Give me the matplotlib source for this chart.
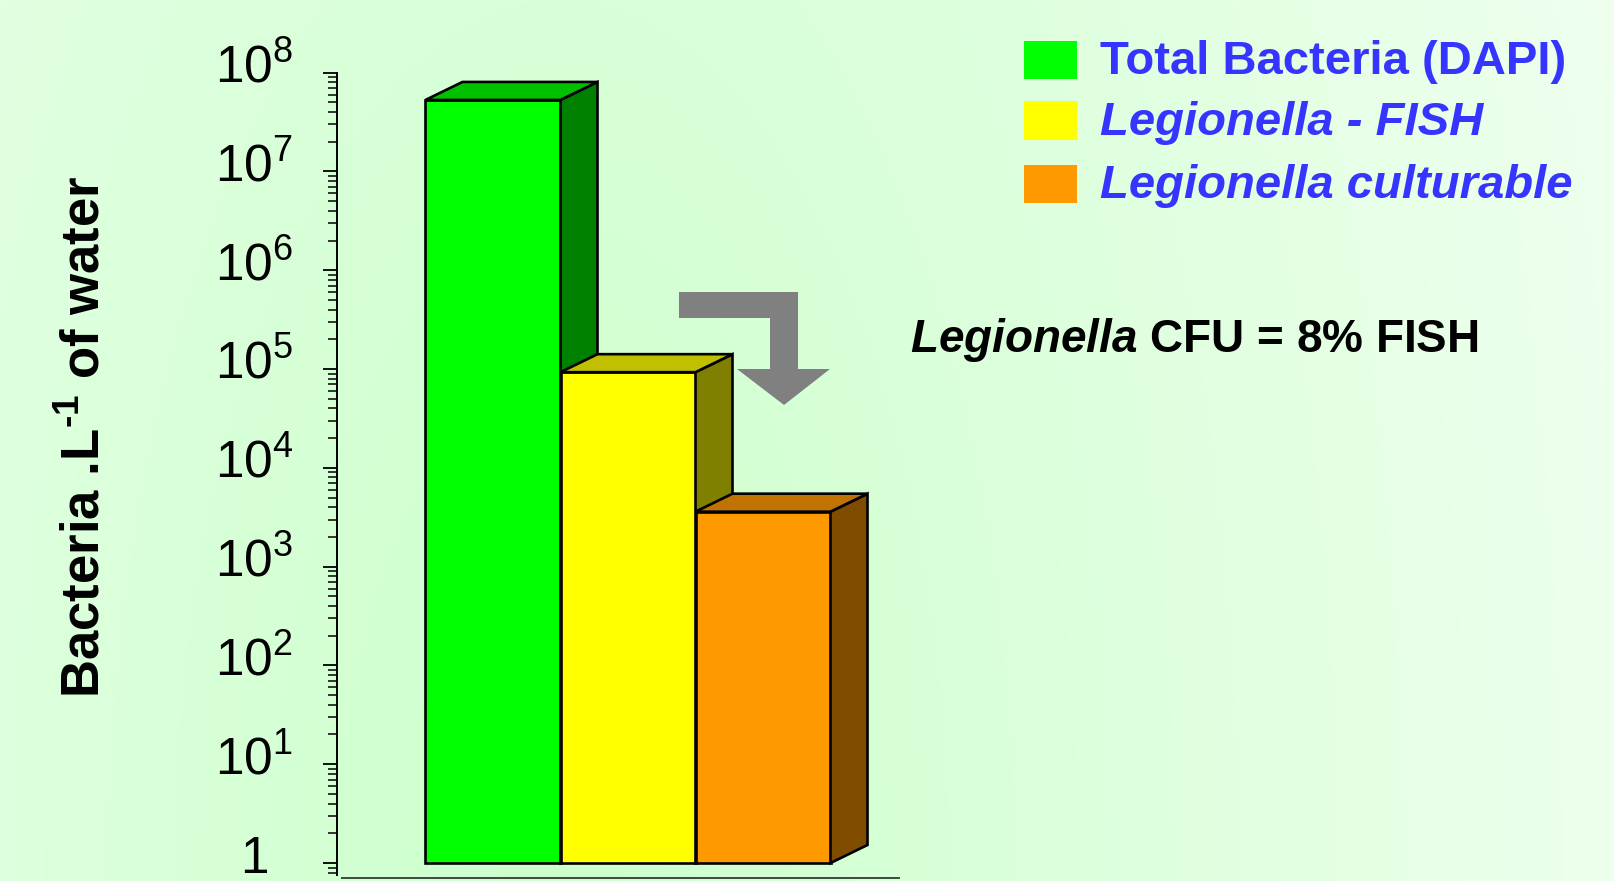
import numpy as np
import matplotlib
matplotlib.use('Agg')
import matplotlib.pyplot as plt
from matplotlib.patches import Polygon, Rectangle
from matplotlib.ticker import FixedLocator, LogLocator, NullFormatter

plt.rcParams['font.family'] = ['Liberation Sans', 'DejaVu Sans']
plt.rcParams['mathtext.fontset'] = 'custom'
plt.rcParams['mathtext.rm'] = 'Liberation Sans:bold'
plt.rcParams['mathtext.sf'] = 'Liberation Sans'
plt.rcParams['mathtext.it'] = 'Liberation Sans:italic:bold'
plt.rcParams['mathtext.bf'] = 'Liberation Sans:bold'

# data
categories = ['Total Bacteria (DAPI)', 'Legionella - FISH', 'Legionella culturable']
legend_styles = ['normal', 'italic', 'italic']
values = [5.3e7, 9.3e4, 3.6e3]
front_colors = ['#00ff00', '#ffff00', '#ff9900']
top_colors = ['#00c000', '#c0c000', '#c07300']
side_colors = ['#008000', '#808000', '#804c00']
ytick_values = [1, 1e1, 1e2, 1e3, 1e4, 1e5, 1e6, 1e7, 1e8]
ytick_labels = ['1'] + [r'$\mathsf{10^{%d}}$' % i for i in range(1, 9)]
note = r'$\mathit{Legionella}$ CFU = 8% FISH'
ylabel = r'Bacteria .L$^{\text{-}\mathbf{1}}$ of water'

W, H = 1615, 881
fig = plt.figure(figsize=(W / 100, H / 100), dpi=100)

# background gradient
bg = fig.add_axes([0, 0, 1, 1])
yy, xx = np.mgrid[0:H:4, 0:W:4]
d = np.sqrt(((xx - 560) / 1100.0) ** 2 + ((yy - 880) / 2500.0) ** 2)
r = np.clip(204 + 34 * d, 0, 240) / 255.0
img = np.dstack([r, np.ones_like(r), r])
bg.imshow(img, aspect='auto', extent=[0, 1, 0, 1], interpolation='bilinear')
bg.set_axis_off()

# main axes
decade = (863 - 72.7) / 8
ax = fig.add_axes([337 / W, (H - 875) / H, (899 - 337) / W, (875 - 72.7) / H])
ax.patch.set_alpha(0)
ax.set_yscale('log')
ax.set_ylim(10 ** (-(875 - 863) / decade), 1e8)
px_per_unit = 135.0
ax.set_xlim(-(493 - 337) / px_per_unit, -(493 - 337) / px_per_unit + (899 - 337) / px_per_unit)

x = np.arange(len(values))
width = 1.0
ddx = 37 / px_per_unit
k = 10 ** (18 / decade)
base = 1.0
bars = ax.bar(x, np.array(values) - base, bottom=base, width=width,
              color=front_colors, edgecolor='black', linewidth=1.9)
for i, (v, b) in enumerate(zip(values, bars)):
    b.set_zorder(3 + 2 * i)
    x0, x1 = x[i] - width / 2, x[i] + width / 2
    top = Polygon([(x0, v), (x1, v), (x1 + ddx, v * k), (x0 + ddx, v * k)],
                  closed=True, facecolor=top_colors[i], edgecolor='black',
                  linewidth=1.9, joinstyle='miter', zorder=4 + 2 * i)
    side = Polygon([(x1, base), (x1 + ddx, base * k), (x1 + ddx, v * k), (x1, v)],
                   closed=True, facecolor=side_colors[i], edgecolor='black',
                   linewidth=1.9, joinstyle='miter', zorder=4 + 2 * i)
    ax.add_patch(side)
    ax.add_patch(top)

# axes styling
for s in ['top', 'right']:
    ax.spines[s].set_visible(False)
ax.spines['left'].set_linewidth(1.4)
ax.spines['bottom'].set_position(('outward', 2.5))
ax.spines['bottom'].set_color('#3c4a3c')
ax.spines['bottom'].set_linewidth(1.4)
ax.spines['bottom'].set_bounds(ax.get_xlim()[0] + 5 / px_per_unit, ax.get_xlim()[1])
ax.set_xticks([])
ax.yaxis.set_major_locator(FixedLocator(ytick_values))
ax.yaxis.set_minor_locator(LogLocator(base=10, subs=np.arange(2, 10), numticks=20))
ax.yaxis.set_major_formatter(NullFormatter())
ax.yaxis.set_minor_formatter(NullFormatter())
ax.tick_params(axis='y', which='major', length=10, width=1.3, direction='out')
ax.tick_params(axis='y', which='minor', length=6.7, width=1.1, direction='out')

for v, lab in zip(ytick_values, ytick_labels):
    ax.annotate(lab, xy=(0, v), xycoords=ax.get_yaxis_transform(),
                xytext=(-83 * 0.72, -10 * 0.72), textcoords='offset points',
                ha='center', va='baseline', fontsize=37, color='black')

fig.text(85 / W, 1 - 437 / H, ylabel, rotation=90, ha='center', va='center',
         fontsize=38, fontweight='bold', color='black')

# legend
leg_y = [60, 120.5, 184]
for lab, c, st, yc in zip(categories, front_colors, legend_styles, leg_y):
    fig.patches.append(Rectangle((1024 / W, (H - yc - 19) / H), 53 / W, 38 / H,
                                 transform=fig.transFigure, facecolor=c,
                                 edgecolor='none'))
    fig.text(1100 / W, 1 - (yc + 2) / H, lab, ha='left', va='center',
             fontsize=34, fontweight='bold', fontstyle=st, color='#3535ff')

# annotation
fig.text(910 / W, 1 - 340 / H, note, ha='left', va='center', fontsize=33,
         fontweight='bold', color='black')

arrow_px = [(679, 292), (798, 292), (798, 369), (830, 369), (784, 405),
            (737, 369), (770, 369), (770, 318), (679, 318)]
fig.patches.append(Polygon([(px / W, 1 - py / H) for px, py in arrow_px],
                           closed=True, transform=fig.transFigure,
                           facecolor='#808080', edgecolor='none'))

fig.savefig('out.png', dpi=100)
